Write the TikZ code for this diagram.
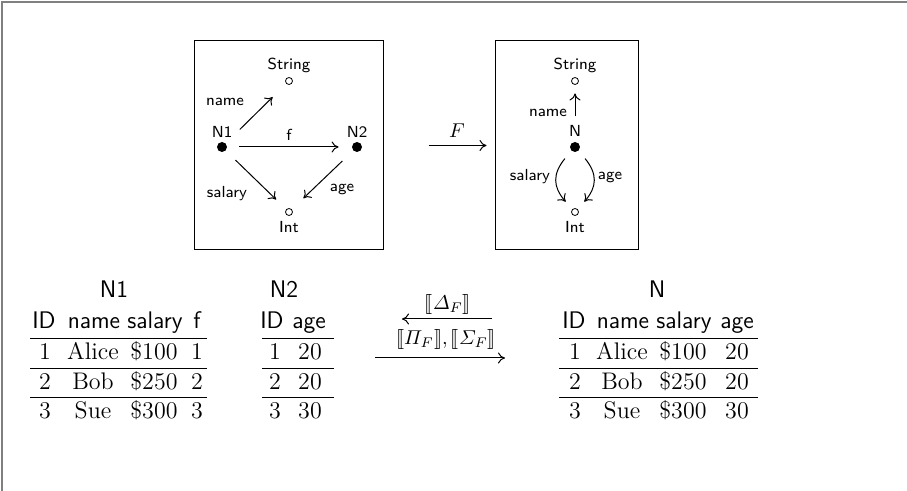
\documentclass[tikz,border=0pt]{standalone}
\usepackage{amsmath}
\usepackage{stmaryrd}
\usepackage{fontspec}
\usetikzlibrary{arrows.meta}
\begin{document}
\begin{tikzpicture}[x=0.5pt,y=-0.5pt,
  lbl/.style={font=\fontsize{8}{9.6}\selectfont\sffamily, inner sep=0pt},
  emp/.style={circle,draw,inner sep=0pt,minimum size=3.5pt,line width=0.4pt},
  full/.style={circle,fill,inner sep=0pt,minimum size=5pt},
  arr/.style={-{To[length=3.5pt,width=5.5pt]},line width=0.5pt},
  boxx/.style={draw,line width=0.5pt,inner sep=0pt,rectangle},
  hd/.style={font=\fontsize{12}{14}\selectfont\sffamily, inner sep=0pt, anchor=base},
  cell/.style={font=\fontsize{12}{14}\selectfont, inner sep=0pt, anchor=base},
  rulel/.style={line width=0.5pt},
  mlab/.style={font=\fontsize{10}{12}\selectfont, inner sep=0pt}]
\useasboundingbox (0,0) rectangle (907,491);
\draw[line width=1pt, black!50] (2,491) -- (2,2) -- (907,2);

% schema boxes
\node[boxx, minimum width=94.5pt, minimum height=104.5pt] (box1) at (288.5,145.5) {};
\node[boxx, minimum width=71.5pt, minimum height=104.5pt] (box2) at (566.5,145.5) {};

% left schema
\node[emp] (s1) at (289,81) {};
\node[lbl] (s1l) at (289,65) {String};
\node[full] (n1) at (222,147) {};
\node[lbl] (n1l) at (222,132) {N1};
\node[full] (n2) at (357,147) {};
\node[lbl] (n2l) at (357,132) {N2};
\node[emp] (i1) at (289,212) {};
\node[lbl] (i1l) at (289,227) {Int};

\draw[arr, shorten <=9.8pt, shorten >=9.5pt] (n1) -- (s1);
\draw[arr, shorten <=6pt, shorten >=6.5pt] (n1) -- (n2);
\draw[arr, shorten <=6.7pt, shorten >=7pt] (n1) -- (i1);
\draw[arr, shorten <=7.4pt, shorten >=8pt] (n2) -- (i1);
\node[lbl] (l-name) at (225,102) {name};
\node[lbl] (l-f) at (289,135) {f};
\node[lbl] (l-sal) at (227,194) {salary};
\node[lbl] (l-age) at (342,189) {age};

% right schema
\node[emp] (s2) at (575,81) {};
\node[lbl] (s2l) at (575,65) {String};
\node[full] (n3) at (575,147) {};
\node[lbl] (n3l) at (575,131) {N};
\node[emp] (i2) at (575,212) {};
\node[lbl] (i2l) at (575,227) {Int};

\draw[arr, shorten <=4.3pt, shorten >=4.3pt] (n3l) -- (s2);
\draw[arr, shorten <=5pt, shorten >=5pt] (n3.south west) to[bend right=40, looseness=1.3] (i2.north west);
\draw[arr, shorten <=5pt, shorten >=5pt] (n3.south east) to[bend left=40, looseness=1.3] (i2.north east);
\node[lbl] (r-name) at (548,113) {name};
\node[lbl] (r-sal) at (530,177) {salary};
\node[lbl] (r-age) at (610,177) {age};

% functor arrow
\node[mlab] (fl) at (457,131) {$F$};
\draw[arr, shorten <=22.5pt, shorten >=4pt] (box1) -- (box2);

% table N1
\node[hd] (t1) at (114,298) {N1};
\foreach \x/\t [count=\i] in {44/ID,94/name,155/salary,197/f}
  \node[hd] (a-h\i) at (\x,329) {\t};
\foreach \x/\t [count=\i] in {45/1,93/Alice,154/\$100,197/1}
  \node[cell] (a-1\i) at (\x,360) {\t};
\foreach \x/\t [count=\i] in {45/2,93/Bob,154/\$250,197/2}
  \node[cell] (a-2\i) at (\x,390) {\t};
\foreach \x/\t [count=\i] in {45/3,93/Sue,154/\$300,197/3}
  \node[cell] (a-3\i) at (\x,419) {\t};
\foreach \y in {339,369,398} \draw[rulel] (30,\y) -- (207,\y);

% table N2
\node[hd] (t2) at (284,298) {N2};
\foreach \x/\t [count=\i] in {272/ID,309/age}
  \node[hd] (b-h\i) at (\x,329) {\t};
\foreach \x/\t [count=\i] in {275/1,310/20}
  \node[cell] (b-1\i) at (\x,360) {\t};
\foreach \x/\t [count=\i] in {275/2,310/20}
  \node[cell] (b-2\i) at (\x,390) {\t};
\foreach \x/\t [count=\i] in {275/3,310/30}
  \node[cell] (b-3\i) at (\x,419) {\t};
\foreach \y in {339,369,398} \draw[rulel] (262,\y) -- (334,\y);

% table N
\node[hd] (t3) at (657,298) {N};
\foreach \x/\t [count=\i] in {574/ID,623/name,684/salary,737/age}
  \node[hd] (c-h\i) at (\x,329) {\t};
\foreach \x/\t [count=\i] in {575/1,622/Alice,683/\$100,737/20}
  \node[cell] (c-1\i) at (\x,360) {\t};
\foreach \x/\t [count=\i] in {575/2,622/Bob,683/\$250,737/20}
  \node[cell] (c-2\i) at (\x,390) {\t};
\foreach \x/\t [count=\i] in {575/3,622/Sue,683/\$300,737/30}
  \node[cell] (c-3\i) at (\x,419) {\t};
\foreach \y in {339,369,398} \draw[rulel] (559,\y) -- (758,\y);

% data migration arrows
\coordinate (ua) at (492,319);
\coordinate (ub) at (402,319);
\coordinate (la) at (375,358);
\coordinate (lb) at (505,358);
\draw[arr] (ua) -- (ub);
\draw[arr] (la) -- (lb);
\node[mlab] (dl) at (448,305) {$\llbracket\varDelta_F\rrbracket$};
\node[mlab] (pl) at (446,340) {$\llbracket\varPi_F\rrbracket,\llbracket\varSigma_F\rrbracket$};
\end{tikzpicture}
\end{document}
